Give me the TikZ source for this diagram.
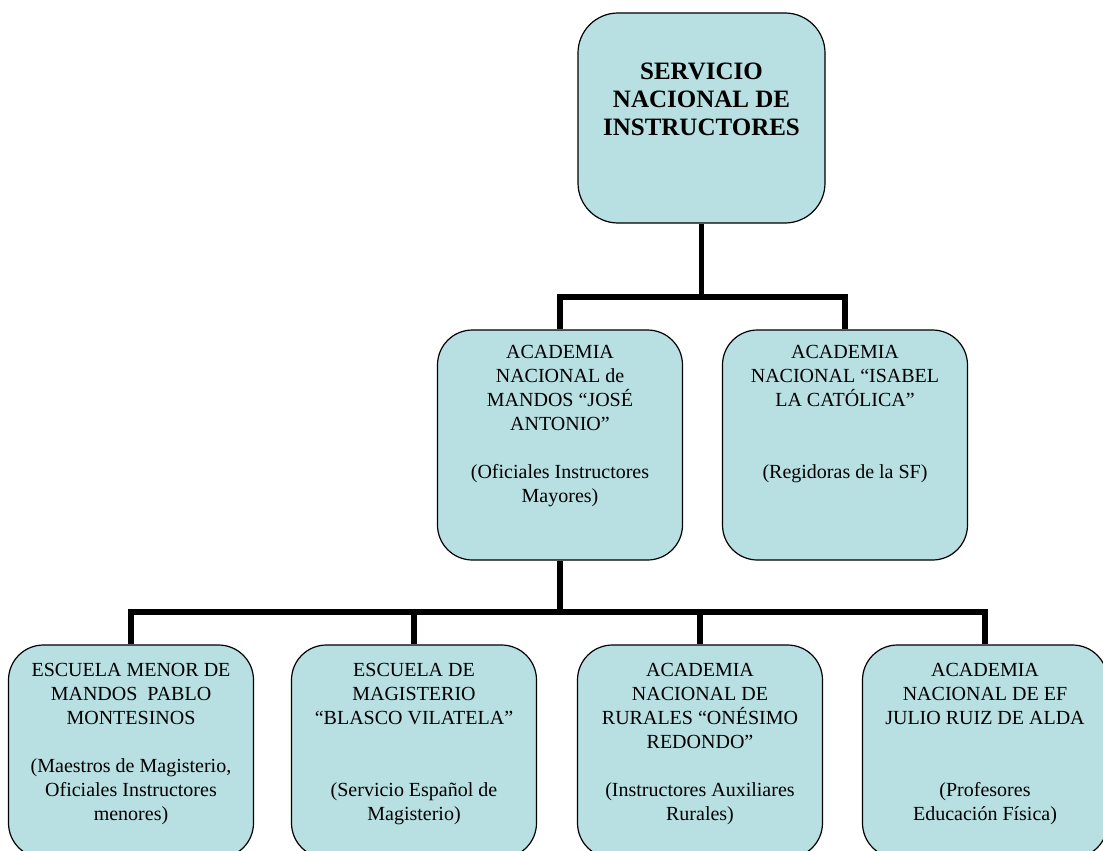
\documentclass[tikz,border=0pt]{standalone}
\usepackage{fontspec}
\setmainfont{Liberation Serif}
\definecolor{boxfill}{RGB}{184,223,226}
\tikzset{
	box/.style={draw,line width=1.2pt,fill=boxfill,rounded corners=35pt,minimum width=245pt,inner sep=0pt},
	txt/.style={font=\fontsize{20}{24}\selectfont,align=center,inner sep=0pt,anchor=north},
	conn/.style={line width=5.5pt}
}
\begin{document}
\begin{tikzpicture}[x=1pt,y=-1pt]
		\useasboundingbox(0,0)rectangle(1103,851);
		\clip(0,0)rectangle(1103,851);
		\coordinate(j1)at(701.5,297);
		\coordinate(j2)at(560,612);
		%top
		\node[box,rounded corners=40pt,minimum width=247pt,minimum height=210pt,label={[txt,font=\bfseries\fontsize{25}{28}\selectfont,yshift=-50.5pt]north:{SERVICIO\\NACIONAL DE\\INSTRUCTORES}}](sni)at(701.5,118){};
		%academias
		\node[box,minimum height=230pt,label={[txt,yshift=-15.5pt]north:{ACADEMIA\\NACIONAL de\\MANDOS “JOSÉ\\ANTONIO”\\[24pt](Oficiales Instructores\\Mayores)}}](mandos)at(560,445){};
		\node[box,minimum height=230pt,label={[txt,yshift=-15.5pt]north:{ACADEMIA\\NACIONAL “ISABEL\\LA CATÓLICA”\\[48pt](Regidoras de la SF)}}](isabel)at(845,445){};
		%escuelas
		\node[box,minimum height=213pt,label={[txt,yshift=-18.5pt]north:{ESCUELA MENOR DE\\MANDOS\ \ PABLO\\MONTESINOS\\[24pt](Maestros de Magisterio,\\Oficiales Instructores\\menores)}}](menor)at(131,751.5){};
		\node[box,minimum height=213pt,label={[txt,yshift=-18.5pt]north:{ESCUELA DE\\MAGISTERIO\\“BLASCO VILATELA”\\[48pt](Servicio Español de\\Magisterio)}}](magis)at(414,751.5){};
		\node[box,minimum height=213pt,label={[txt,yshift=-18.5pt]north:{ACADEMIA\\NACIONAL DE\\RURALES “ONÉSIMO\\REDONDO”\\[24pt](Instructores Auxiliares\\Rurales)}}](rurales)at(700,751.5){};
		\node[box,minimum height=213pt,label={[txt,yshift=-18.5pt]north:{ACADEMIA\\NACIONAL DE EF\\JULIO RUIZ DE ALDA\\[48pt](Profesores\\Educación Física)}}](ef)at(985,751.5){};
		%lines
		\draw[conn](sni)--(j1);
		\draw[conn](mandos.north)|-(j1)-|(isabel.north);
		\draw[conn](mandos)--(j2);
		\draw[conn](menor.north)|-(j2)-|(ef.north);
		\foreach\p in{magis,rurales}{\draw[conn](\p.north)--(\p.north|-j2);}
	\end{tikzpicture}
\end{document}
